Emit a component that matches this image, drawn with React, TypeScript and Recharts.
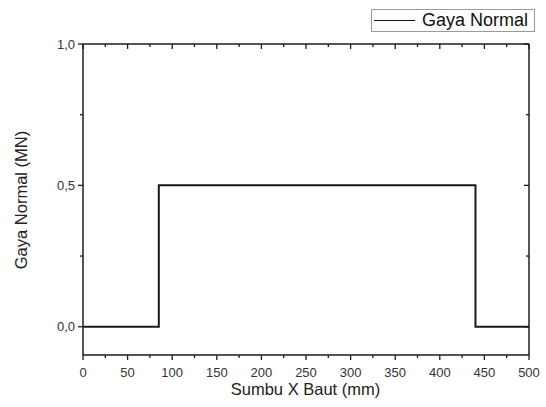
import { LineChart, Line, XAxis, YAxis } from "recharts";

// Gaya normal sepanjang sumbu baut
const posisi = [0, 85, 440, 500];
const gayaNormal = [0, 0.5, 0, 0];

const xTicks = [0, 25, 50, 75, 100, 125, 150, 175, 200, 225, 250, 275, 300, 325, 350, 375, 400, 425, 450, 475, 500];
const yTicks = [0, 0.25, 0.5, 0.75, 1];

const data = posisi.map((x, i) => ({ x, gaya: gayaNormal[i] }));

const AXIS = "#1c1c1c";
const LABEL = "#333333";
const FONT = "'Liberation Sans', Arial, sans-serif";

const isMajorX = (v: number) => v % 50 === 0;
const isMajorY = (v: number) => Math.abs(v * 2 - Math.round(v * 2)) < 1e-6;
const fmtY = (v: number) => v.toFixed(1).replace(".", ",");

function BottomTick({ x, y, payload }: any) {
  const major = isMajorX(payload.value);
  return (
    <g>
      <line x1={x} x2={x} y1={y} y2={y + (major ? 5 : 3)} stroke={AXIS} strokeWidth={1.3} />
      {major && (
        <text x={x} y={y + 22} textAnchor="middle" fontSize={13} fill={LABEL} fontFamily={FONT}>
          {payload.value}
        </text>
      )}
    </g>
  );
}

function TopTick({ x, y, payload }: any) {
  const major = isMajorX(payload.value);
  return <line x1={x} x2={x} y1={y} y2={y + (major ? 5 : 3)} stroke={AXIS} strokeWidth={1.3} />;
}

function LeftTick({ x, y, payload }: any) {
  const major = isMajorY(payload.value);
  return (
    <g>
      <line x1={x - (major ? 5 : 3)} x2={x} y1={y} y2={y} stroke={AXIS} strokeWidth={1.3} />
      {major && (
        <text x={x - 8} y={y + 4.5} textAnchor="end" fontSize={13} fill={LABEL} fontFamily={FONT}>
          {fmtY(payload.value)}
        </text>
      )}
    </g>
  );
}

function RightTick({ x, y, payload }: any) {
  const major = isMajorY(payload.value);
  return <line x1={x - (major ? 5 : 3)} x2={x} y1={y} y2={y} stroke={AXIS} strokeWidth={1.3} />;
}

function LegendBox() {
  return (
    <div
      style={{
        position: "absolute",
        left: 371,
        top: 9,
        width: 164,
        height: 23,
        border: "1px solid #9a9a9a",
        background: "#fff",
        display: "flex",
        alignItems: "center",
        fontFamily: FONT,
        fontSize: 18,
        color: "#111",
        boxSizing: "border-box",
      }}
    >
      <span style={{ display: "inline-block", width: 41, height: 0, borderTop: "1.5px solid #111", marginLeft: 2, marginRight: 7 }} />
      <span>Gaya Normal</span>
    </div>
  );
}

export default function App() {
  return (
    <div style={{ position: "absolute", left: 0, top: 0, width: 546, height: 407, background: "#fff" }}>
      <LineChart width={546} height={407} data={data} margin={{ top: 44, right: 17, bottom: 0, left: 0 }}>
        <XAxis
          xAxisId="bottom"
          dataKey="x"
          type="number"
          domain={[0, 500]}
          ticks={xTicks}
          interval={0}
          height={52}
          tickSize={0}
          tickMargin={0}
          tick={<BottomTick />}
          tickLine={false}
          axisLine={{ stroke: AXIS, strokeWidth: 1.5 }}
          label={{
            content: () => (
              <text x={305.5} y={395} textAnchor="middle" fontSize={16.5} fill="#222" fontFamily={FONT}>
                Sumbu X Baut (mm)
              </text>
            ),
          }}
        />
        <XAxis
          xAxisId="top"
          dataKey="x"
          type="number"
          orientation="top"
          mirror
          domain={[0, 500]}
          ticks={xTicks}
          interval={0}
          height={1}
          tickSize={0}
          tickMargin={0}
          tick={<TopTick />}
          tickLine={false}
          axisLine={{ stroke: AXIS, strokeWidth: 1.5 }}
        />
        <YAxis
          yAxisId="left"
          type="number"
          domain={[-0.1, 1]}
          ticks={yTicks}
          interval={0}
          width={83}
          tickSize={0}
          tickMargin={0}
          tick={<LeftTick />}
          tickLine={false}
          allowDataOverflow
          axisLine={{ stroke: AXIS, strokeWidth: 1.5 }}
          label={{
            content: () => (
              <text
                x={27}
                y={200}
                textAnchor="middle"
                fontSize={16.5}
                fill="#222"
                fontFamily={FONT}
                transform="rotate(-90 27 200)"
              >
                Gaya Normal (MN)
              </text>
            ),
          }}
        />
        <YAxis
          yAxisId="right"
          orientation="right"
          type="number"
          mirror
          domain={[-0.1, 1]}
          ticks={yTicks}
          interval={0}
          width={1}
          tickSize={0}
          tickMargin={0}
          tick={<RightTick />}
          tickLine={false}
          allowDataOverflow
          axisLine={{ stroke: AXIS, strokeWidth: 1.5 }}
        />
        <Line
          xAxisId="bottom"
          yAxisId="left"
          type="stepAfter"
          dataKey="gaya"
          stroke="#1a1a1a"
          strokeWidth={2}
          dot={false}
          activeDot={false}
          isAnimationActive={false}
        />
      </LineChart>
      <LegendBox />
    </div>
  );
}
